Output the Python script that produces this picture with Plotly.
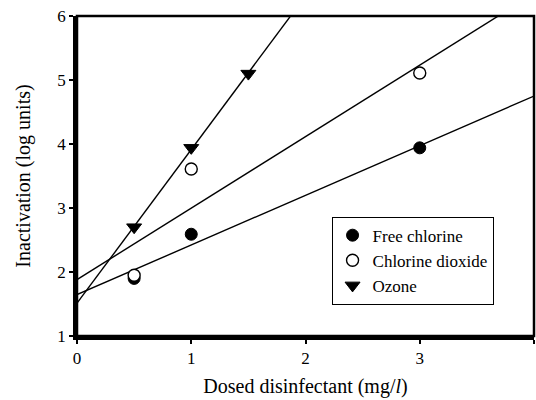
import numpy as np
import plotly.graph_objects as go

# Inactivation (log units) vs dosed disinfectant (mg/l)
free_chlorine_x = [0.5, 1.0, 3.0]
free_chlorine_y = [1.90, 2.59, 3.94]

chlorine_dioxide_x = [0.5, 1.0, 3.0]
chlorine_dioxide_y = [1.95, 3.61, 5.11]

ozone_x = [0.5, 1.0, 1.5]
ozone_y = [2.70, 3.94, 5.10]

x_ticks = [0, 1, 2, 3, 4]
y_ticks = [1, 2, 3, 4, 5, 6]

FONT = "Times New Roman, Liberation Serif, DejaVu Serif, serif"

fig = go.Figure()

# Least-squares fit lines across the full x range
fit_x = np.array([0.0, 4.0])
for xs, ys in [(free_chlorine_x, free_chlorine_y),
               (chlorine_dioxide_x, chlorine_dioxide_y),
               (ozone_x, ozone_y)]:
    slope, intercept = np.polyfit(xs, ys, 1)
    fig.add_trace(go.Scatter(
        x=fit_x, y=slope * fit_x + intercept, mode="lines",
        line=dict(color="black", width=1.4), showlegend=False, hoverinfo="skip"))

fig.add_trace(go.Scatter(
    x=free_chlorine_x, y=free_chlorine_y, mode="markers", name="Free chlorine",
    marker=dict(symbol="circle", size=12, color="black",
                line=dict(color="black", width=1))))
fig.add_trace(go.Scatter(
    x=chlorine_dioxide_x, y=chlorine_dioxide_y, mode="markers", name="Chlorine dioxide",
    marker=dict(symbol="circle", size=12, color="white",
                line=dict(color="black", width=1.4))))
fig.add_trace(go.Scatter(
    x=ozone_x, y=ozone_y, mode="markers", name="Ozone",
    marker=dict(symbol="triangle-down", size=13, color="black",
                line=dict(color="black", width=1))))

# thin top/right frame
fig.add_shape(type="rect", xref="paper", yref="paper", x0=0, y0=0, x1=1, y1=1,
              line=dict(color="black", width=2.5), layer="above")

fig.update_layout(
    width=536, height=400,
    margin=dict(l=77, r=2, t=16, b=64),
    paper_bgcolor="white", plot_bgcolor="white",
    font=dict(family=FONT, size=16, color="black"),
    showlegend=True,
    legend=dict(x=0.557, y=0.373, xanchor="left", yanchor="top",
                bordercolor="black", borderwidth=1, bgcolor="white",
                font=dict(family=FONT, size=17), itemwidth=30,
                tracegroupgap=0),
    xaxis=dict(range=[0, 4], tickvals=x_ticks, showgrid=False, zeroline=False,
               showline=True, linecolor="black", linewidth=3.5,
               ticks="outside", ticklen=4, tickwidth=1.5, tickcolor="black",
               tickfont=dict(family=FONT, size=17),
               title=dict(text="Dosed disinfectant (mg/<i>l</i>)",
                          font=dict(family=FONT, size=20), standoff=13)),
    yaxis=dict(range=[1, 6], tickvals=y_ticks, showgrid=False, zeroline=False,
               showline=True, linecolor="black", linewidth=3.5,
               ticks="outside", ticklen=4, tickwidth=1.5, tickcolor="black",
               tickfont=dict(family=FONT, size=17),
               title=dict(text="Inactivation (log units)",
                          font=dict(family=FONT, size=20), standoff=22)),
)

fig.write_html("out.html")
